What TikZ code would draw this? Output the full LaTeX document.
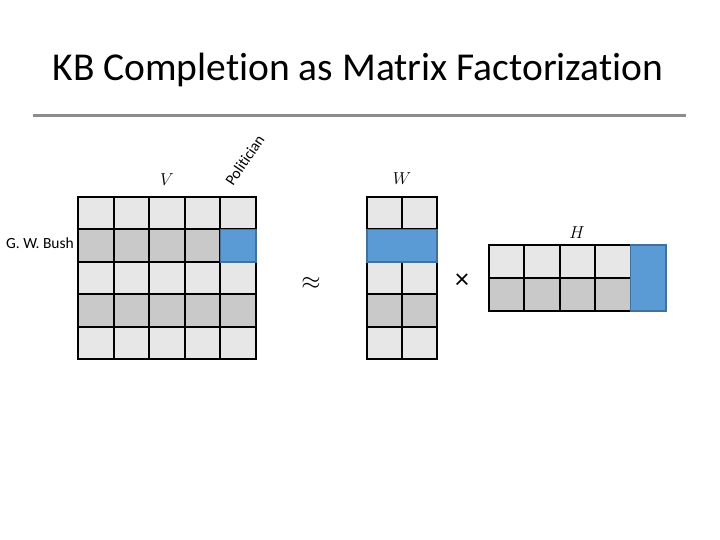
\documentclass[tikz,border=0pt]{standalone}
\usepackage{fontspec}
\setmainfont{Carlito}[Ligatures=NoCommon]
\definecolor{cl}{HTML}{E7E7E7}
\definecolor{cd}{HTML}{C9C9C9}
\definecolor{cb}{HTML}{5B9BD5}
\definecolor{cbd}{HTML}{41719C}
\definecolor{rule}{HTML}{8C8C8C}
\begin{document}
\begin{tikzpicture}[x=1pt,y=-1pt,
  cell/.style={draw=black,line width=2pt,inner sep=0pt,outer sep=0pt},
  vcell/.style={cell,minimum width=35.6pt,minimum height=32.4pt},
  wcell/.style={cell,minimum width=35pt,minimum height=32.4pt},
  hcell/.style={cell,minimum width=35.4pt,minimum height=33pt},
  bluecell/.style={fill=cb,draw=cbd,line width=1.4pt,inner sep=0pt,outer sep=0pt},
  lbl/.style={font=\fontsize{15.5}{18}\selectfont,inner sep=0pt},
  mlbl/.style={font=\fontsize{19}{22}\selectfont,inner sep=0pt}]
\useasboundingbox (0,0) rectangle (720,540);
% title and rule
\node[font=\fontsize{39.5}{46}\selectfont,inner sep=0pt] (title) at (358,70) {KB Completion as Matrix Factorization};
\coordinate (rl) at (33,116);
\coordinate (rr) at (686,116);
\draw[rule,line width=3pt] (rl) -- (rr);
% V matrix
\foreach \r/\col in {1/cl,2/cd,3/cl,4/cd,5/cl}{
  \foreach \c in {1,...,5}{
    \node[vcell,fill=\col] (v\r\c) at ({78+35.6*(\c-0.5)},{197+32.4*(\r-0.5)}) {};
  }
}
\node[bluecell,minimum width=35.6pt,minimum height=32.4pt] (vb) at (v25) {};
% W matrix
\foreach \r/\col in {1/cl,3/cl,4/cd,5/cl}{
  \foreach \c in {1,2}{
    \node[wcell,fill=\col] (w\r\c) at ({367+35*(\c-0.5)},{197+32.4*(\r-0.5)}) {};
  }
}
\node[bluecell,minimum width=70pt,minimum height=32.4pt] (wb) at (402,{197+32.4*1.5}) {};
% H matrix
\foreach \r/\col in {1/cl,2/cd}{
  \foreach \c in {1,...,4}{
    \node[hcell,fill=\col] (h\r\c) at ({489+35.4*(\c-0.5)},{245+33*(\r-0.5)}) {};
  }
}
\node[bluecell,minimum width=35.4pt,minimum height=66pt] (hb) at ({489+35.4*4.5},278) {};
% labels
\node[lbl,anchor=east] (bush) at (74,243) {G. W. Bush};
\node[lbl,rotate=56,anchor=base west] (pol) at (233,187) {Politician};
\node[mlbl] (vl) at (167,180) {$V$};
\node[mlbl] (wl) at (402,179) {$W$};
\node[mlbl] (hl) at (577,233) {$H$};
\node[font=\fontsize{30}{34}\selectfont,inner sep=0pt] (approx) at (311,283) {$\approx$};
\node[font=\fontsize{28}{32}\selectfont,inner sep=0pt] (times) at (462,281) {×};
\end{tikzpicture}
\end{document}
